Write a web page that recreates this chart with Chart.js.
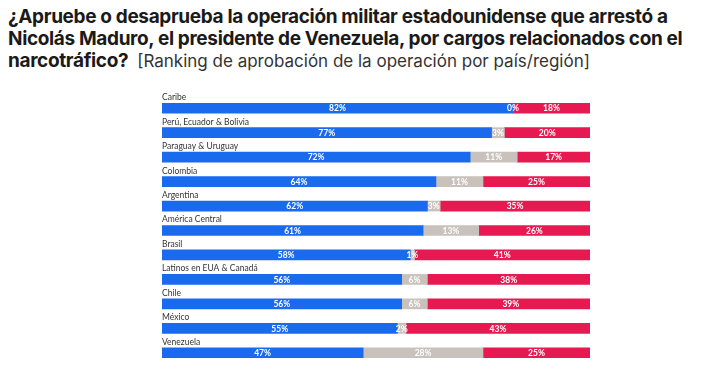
<!DOCTYPE html>
<html>
<head>
<meta charset="utf-8">
<script src="https://cdn.jsdelivr.net/npm/chart.js@4"></script>
<style>
  html, body { margin: 0; padding: 0; background: #fff; }
  #wrap { position: relative; width: 720px; height: 370px; overflow: hidden; }
  #title {
    position: absolute; left: 8px; top: 6px; width: 712px; white-space: nowrap;
    font-family: "Inter", sans-serif;
    font-weight: bold; font-size: 19px; line-height: 22px; letter-spacing: -0.35px; color: #1a1a1a;
  }
  #title .sub { font-weight: normal; font-size: 17px; letter-spacing: 0; color: #333; margin-left: 9px; }
  canvas { position: absolute; left: 0; top: 0; }
</style>
</head>
<body>
<div id="wrap">
  <div id="title">¿Apruebe o desaprueba la operación militar estadounidense que arrestó a<br>Nicolás Maduro, el presidente de Venezuela, por cargos relacionados con el<br>narcotráfico?<span class="sub">[Ranking de aprobación de la operación por país/región]</span></div>
  <canvas id="chart" width="720" height="370"></canvas>
</div>
<script>
const regions = ['Caribe', 'Perú, Ecuador & Bolivia', 'Paraguay & Uruguay', 'Colombia', 'Argentina',
  'América Central', 'Brasil', 'Latinos en EUA & Canadá', 'Chile', 'México', 'Venezuela'];
const aprueba = [82, 77, 72, 64, 62, 61, 58, 56, 56, 55, 47];
const noSabe = [0, 3, 11, 11, 3, 13, 1, 6, 6, 2, 28];
const desaprueba = [18, 20, 17, 25, 35, 26, 41, 38, 39, 43, 25];

const barThickness = 10;

// value labels inside each segment + region names above each bar
const labelsPlugin = {
  id: 'labels',
  afterDatasetsDraw(chart) {
    const ctx = chart.ctx;
    ctx.save();
    ctx.textAlign = 'center';
    ctx.textBaseline = 'middle';
    ctx.font = 'bold 8.5px Lato';
    ctx.fillStyle = '#fff';
    chart.data.datasets.forEach((ds, i) => {
      chart.getDatasetMeta(i).data.forEach((bar, j) => {
        const cx = (bar.x + bar.base) / 2;
        ctx.fillText(ds.data[j] + '%', cx, bar.y + 0.5);
      });
    });
    const yScale = chart.scales.y;
    ctx.textAlign = 'left';
    ctx.textBaseline = 'bottom';
    ctx.font = '8.5px Lato';
    ctx.fillStyle = '#333';
    regions.forEach((r, j) => {
      const y = yScale.getPixelForValue(j);
      ctx.fillText(r, chart.chartArea.left, y - barThickness / 2 - 1.5);
    });
    ctx.restore();
  }
};

new Chart(document.getElementById('chart'), {
  type: 'bar',
  data: {
    labels: regions,
    datasets: [
      { label: 'Aprueba', data: aprueba, backgroundColor: '#1a6aee' },
      { label: 'No sabe', data: noSabe, backgroundColor: '#c9c1bc' },
      { label: 'Desaprueba', data: desaprueba, backgroundColor: '#e61a50' }
    ]
  },
  options: {
    indexAxis: 'y',
    responsive: false,
    animation: false,
    barThickness: barThickness,
    layout: { padding: { left: 162, right: 130, top: 96, bottom: 5 } },
    plugins: { legend: { display: false }, tooltip: { enabled: false } },
    scales: {
      x: { stacked: true, min: 0, max: 100, display: false },
      y: { stacked: true, display: false }
    }
  },
  plugins: [labelsPlugin]
});
</script>
</body>
</html>
